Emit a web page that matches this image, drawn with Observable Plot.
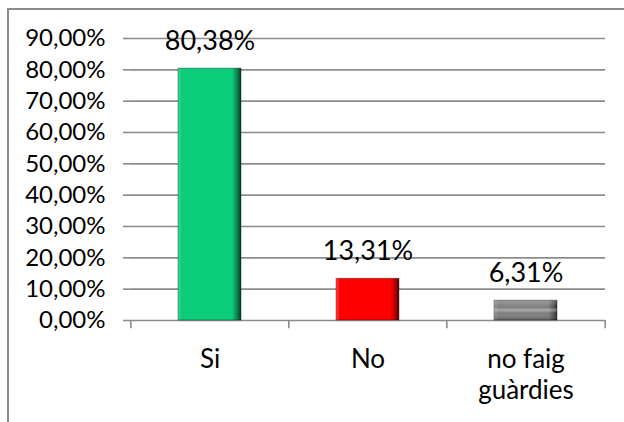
<!DOCTYPE html>
<html>
<head>
<meta charset="utf-8">
<script src="https://cdn.jsdelivr.net/npm/d3@7"></script>
<script src="https://cdn.jsdelivr.net/npm/@observablehq/plot@0.6"></script>
<style>
  html, body { margin: 0; padding: 0; background: #fff; }
  #wrap { position: relative; width: 624px; height: 422px; overflow: hidden; }
  #frame { position: absolute; left: 7px; top: 8px; width: 700px; height: 500px;
           border-left: 2px solid #8c8c8c; border-top: 2px solid #8c8c8c; box-sizing: border-box; }
  #chart { position: absolute; left: 0; top: 0; }
</style>
</head>
<body>
<div id="wrap"><div id="frame"></div><div id="chart"></div></div>
<script>
const categories = ["Si", "No", "no faig guàrdies"];
const values = [80.38, 13.31, 6.31];
const valueLabels = ["80,38%", "13,31%", "6,31%"];
const tickLabels = {"Si": "Si", "No": "No", "no faig guàrdies": "no faig\nguàrdies"};
const yTicks = [0, 10, 20, 30, 40, 50, 60, 70, 80, 90];
const gradIds = ["gGreen", "gRed", "gGray"];

const data = categories.map((c, i) => ({cat: c, value: values[i], label: valueLabels[i], grad: gradIds[i]}));

const W = 624, H = 422, ML = 130, MR = 19, MT = 38, MB = 102;
const step = (W - ML - MR) / categories.length;
const fontFamily = "Lato, 'Open Sans', sans-serif";
const gridColor = "#8c8c8c";

const defs = () => {
  const svg = d3.create("svg:g");
  const d = svg.append("defs");
  const mk = (id, stops) => {
    const g = d.append("linearGradient").attr("id", id).attr("x1", 0).attr("x2", 1).attr("y1", 0).attr("y2", 0);
    stops.forEach(([o, c]) => g.append("stop").attr("offset", o).attr("stop-color", c));
  };
  mk("gGreen", [[0, "#3fdc97"], [0.06, "#0bcc7a"], [0.86, "#0bcc7a"], [0.94, "#07834e"], [1, "#033d24"]]);
  mk("gRed", [[0, "#ff4a4a"], [0.06, "#ff0000"], [0.86, "#ff0000"], [0.94, "#b00000"], [1, "#5a0000"]]);
  mk("gGray", [[0, "#9a9a9a"], [0.06, "#7d7d7d"], [0.86, "#7d7d7d"], [0.94, "#555555"], [1, "#2a2a2a"]]);
  const vg = d.append("linearGradient").attr("id", "gGrayV").attr("x1", 0).attr("x2", 0).attr("y1", 0).attr("y2", 1);
  [[0, "rgba(255,255,255,0.25)"], [0.35, "rgba(255,255,255,0)"], [0.5, "rgba(255,255,255,0.35)"], [0.65, "rgba(255,255,255,0)"], [1, "rgba(0,0,0,0.25)"]]
    .forEach(([o, c]) => vg.append("stop").attr("offset", o).attr("stop-color", c));
  return svg.node();
};

const plot = Plot.plot({
  width: W, height: H,
  marginLeft: ML, marginRight: MR, marginTop: MT, marginBottom: MB,
  style: {fontFamily, fontSize: "24px", color: "#000", background: "transparent"},
  x: {domain: categories, paddingInner: 0.6, paddingOuter: 0.3, label: null},
  y: {domain: [0, 90], label: null},
  marks: [
    defs,
    Plot.ruleY(yTicks, {stroke: gridColor, strokeWidth: 1.6}),
    Plot.ruleX([0], {x: () => ML, y1: 0, y2: 90, stroke: gridColor, strokeWidth: 1.6}),
    Plot.axisY({ticks: yTicks, tickSize: 7, tickPadding: 18, stroke: gridColor, strokeWidth: 1.6,
      tickFormat: d => d.toFixed(2).replace(".", ",") + "%", fontSize: 24, fill: "#000", label: null}),
    Plot.ruleX(categories, {x: d => d, dx: -step / 2, y1: 0, y2: -2.6, stroke: gridColor, strokeWidth: 1.6}),
    Plot.ruleX([categories[categories.length - 1]], {x: d => d, dx: step / 2, y1: 0, y2: -2.6, stroke: gridColor, strokeWidth: 1.6}),
    Plot.axisX({tickSize: 0, tickPadding: 25, fontSize: 26, fill: "#000", lineHeight: 1.2,
      tickFormat: d => tickLabels[d], label: null}),
    Plot.barY(data, {x: "cat", y: "value", fill: d => `url(#${d.grad})`}),
    Plot.barY(data.filter(d => d.grad === "gGray"), {x: "cat", y: "value", fill: "url(#gGrayV)"}),
    Plot.barY(data, {x: "cat", y: "value", fill: "none", stroke: "rgba(0,0,0,0.35)", strokeWidth: 1}),
    Plot.text(data, {x: "cat", y: "value", text: "label", lineAnchor: "bottom", dy: -19, fontSize: 27, fill: "#000"})
  ]
});
document.getElementById("chart").appendChild(plot);
</script>
</body>
</html>
